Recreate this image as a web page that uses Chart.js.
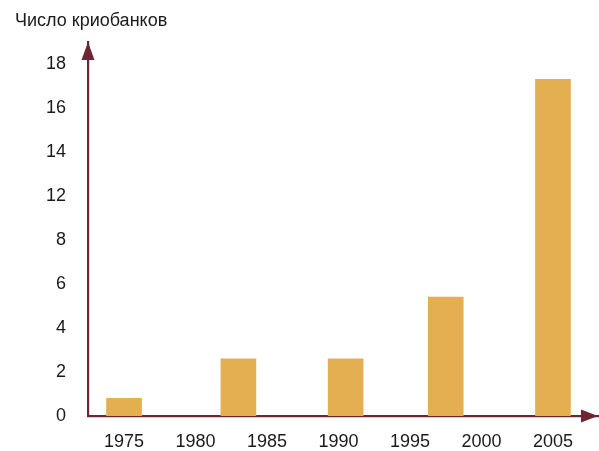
<!DOCTYPE html>
<html>
<head>
<meta charset="utf-8">
<script src="https://cdn.jsdelivr.net/npm/chart.js@4.4.1/dist/chart.umd.min.js"></script>
<style>
    html, body { margin: 0; padding: 0; background: #fff; }
    #wrap { width: 599px; height: 451px; }
</style>
</head>
<body>
<div id="wrap"><canvas id="myChart" width="599" height="451"></canvas></div>
<script>
// Data
const yearPos = [1975, 1983, 1990.5, 1997.5, 2005]
const cryobanks = [0.8, 2.6, 2.6, 5.4, 15.3]

// Ticks (the source skips the label 10)
const xTickValues = [1975, 1980, 1985, 1990, 1995, 2000, 2005]
const yTickValues = [0, 2, 4, 6, 8, 10, 12, 14, 16]
const yTickLabels = ['0', '2', '4', '6', '8', '12', '14', '16', '18']

const axisColor = '#6b2834'
const barColor = '#e3af50'
const fontFamily = '"Liberation Sans", Arial, sans-serif'

// Title in the top-left corner and arrow heads on both axes
const extras = {
    id: 'extras',
    afterDraw(chart) {
        const ctx = chart.ctx
        const a = chart.chartArea
        ctx.save()
        ctx.fillStyle = '#1a1a1a'
        ctx.font = '18px ' + fontFamily
        ctx.textBaseline = 'middle'
        ctx.textAlign = 'left'
        ctx.fillText('Число криобанков', 15, 21)

        ctx.fillStyle = axisColor
        // y arrow
        ctx.beginPath()
        ctx.moveTo(a.left, a.top)
        ctx.lineTo(a.left - 6.5, a.top + 18)
        ctx.lineTo(a.left + 6.5, a.top + 18)
        ctx.closePath()
        ctx.fill()
        // x arrow
        ctx.beginPath()
        ctx.moveTo(a.right, a.bottom)
        ctx.lineTo(a.right - 17, a.bottom - 6.5)
        ctx.lineTo(a.right - 17, a.bottom + 6.5)
        ctx.closePath()
        ctx.fill()
        ctx.restore()
    }
}

const data = {
    datasets: [{
        label: 'Число криобанков',
        backgroundColor: barColor,
        borderWidth: 0,
        barThickness: 35,
        data: yearPos.map((x, i) => ({ x: x, y: cryobanks[i] }))
    }]
}

const config = {
    type: 'bar',
    data: data,
    plugins: [extras],
    options: {
        responsive: false,
        animation: false,
        layout: { padding: { top: 42, right: 1, left: 0, bottom: 0 } },
        plugins: {
            legend: { display: false },
            tooltip: { enabled: false }
        },
        scales: {
            x: {
                type: 'linear',
                offset: false,
                min: 1972.48,
                max: 2008.15,
                afterBuildTicks: scale => { scale.ticks = xTickValues.map(v => ({ value: v })) },
                afterFit: scale => { scale.height = 35 },
                grid: { display: false, drawTicks: false, offset: false },
                border: { display: true, color: axisColor, width: 2.2 },
                ticks: {
                    color: '#1a1a1a',
                    padding: 15,
                    maxRotation: 0,
                    autoSkip: false,
                    font: { size: 18, family: fontFamily },
                    callback: v => String(v)
                }
            },
            y: {
                min: 0,
                max: 17,
                afterBuildTicks: scale => { scale.ticks = yTickValues.map(v => ({ value: v })) },
                afterFit: scale => { scale.width = 88 },
                grid: { display: false, drawTicks: false },
                border: { display: true, color: axisColor, width: 2.2 },
                ticks: {
                    color: '#1a1a1a',
                    padding: 22,
                    autoSkip: false,
                    font: { size: 18, family: fontFamily },
                    callback: (v, i) => yTickLabels[i]
                }
            }
        }
    }
}

const ctx = document.getElementById('myChart').getContext('2d')
new Chart(ctx, config)
</script>
</body>
</html>
